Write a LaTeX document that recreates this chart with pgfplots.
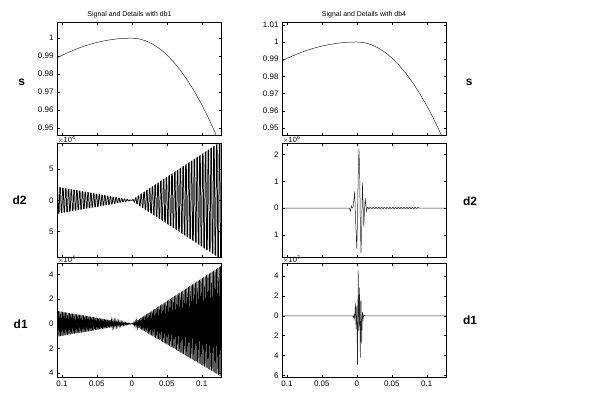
\documentclass[border=0pt]{standalone}
\usepackage{pgfplots}
\pgfplotsset{compat=1.18}
\usepackage{fontspec}
\setmainfont{Liberation Sans}
\begin{document}
\begin{tikzpicture}[x=1bp,y=1bp]
\useasboundingbox (0,0) rectangle (600,395);
\pgfplotsset{
 base/.style={scale only axis, width=164bp, anchor=south west,
   axis line style={line width=0.5pt}, tick align=inside, tick pos=both,
   major tick length=2.5bp, xmin=-0.107, xmax=0.1276,
   xtick={-0.1,-0.05,0,0.05,0.1}, xticklabels=\empty, scaled ticks=false,
   tick label style={font=\fontsize{8}{9}\selectfont},
   tick style={line width=0.4pt, black}},
 ln/.style={black!85, mark=none, line width=0.5pt},
 dense/.style={black, mark=none, line width=0.75pt},
}
% ---------- signal ----------
\begin{axis}[base, name=L1, at={(57bp,259.5bp)}, height=112.8bp, ymin=0.9458, ymax=1.0086,
  ytick={0.95,0.96,0.97,0.98,0.99,1}, yticklabels={0.95,0.96,0.97,0.98,0.99,1}]
\addplot[ln] coordinates {(-0.107,0.98901)(-0.100,0.99040)(-0.090,0.99222)(-0.080,0.99386)(-0.070,0.99530)(-0.060,0.99654)(-0.050,0.99760)(-0.040,0.99846)(-0.030,0.99914)(-0.020,0.99962)(-0.010,0.99990)(0,1)(0.01,0.99963)(0.02,0.99852)(0.03,0.99667)(0.04,0.99408)(0.05,0.99075)(0.06,0.98668)(0.07,0.98187)(0.08,0.97632)(0.09,0.97003)(0.10,0.96300)(0.11,0.95523)(0.12,0.94672)(0.1275,0.93985)};
\end{axis}
\begin{axis}[base, name=R1, at={(282bp,259.5bp)}, height=112.8bp, ymin=0.9456, ymax=1.0112,
  ytick={0.95,0.96,0.97,0.98,0.99,1,1.01}, yticklabels={0.95,0.96,0.97,0.98,0.99,1,1.01}]
\addplot[ln] coordinates {(-0.107,0.98901)(-0.100,0.99040)(-0.090,0.99222)(-0.080,0.99386)(-0.070,0.99530)(-0.060,0.99654)(-0.050,0.99760)(-0.040,0.99846)(-0.030,0.99914)(-0.020,0.99962)(-0.010,0.99990)(0,1)(0.01,0.99963)(0.02,0.99852)(0.03,0.99667)(0.04,0.99408)(0.05,0.99075)(0.06,0.98668)(0.07,0.98187)(0.08,0.97632)(0.09,0.97003)(0.10,0.96300)(0.11,0.95523)(0.12,0.94672)(0.1275,0.93985)};
\end{axis}
% ---------- d2 db1 (x 1e-4) ----------
\begin{axis}[base, name=L2, at={(57bp,137.7bp)}, height=114bp, ymin=-9.1, ymax=9.1,
  ytick={-5,0,5}, yticklabels={5,0,5}]
\addplot[dense] coordinates {(-0.107,2.10)(-0.106,2.08)(-0.105,-2.06)(-0.104,-2.04)(-0.103,2.02)(-0.102,2.00)(-0.101,-1.98)(-0.100,-1.96)(-0.099,1.94)(-0.098,1.92)(-0.097,-1.90)(-0.096,-1.88)(-0.095,1.86)(-0.094,1.84)(-0.093,-1.82)(-0.092,-1.80)(-0.091,1.78)(-0.090,1.76)(-0.089,-1.74)(-0.088,-1.72)(-0.087,1.71)(-0.086,1.69)(-0.085,-1.67)(-0.084,-1.65)(-0.083,1.63)(-0.082,1.61)(-0.081,-1.59)(-0.080,-1.57)(-0.079,1.55)(-0.078,1.53)(-0.077,-1.51)(-0.076,-1.49)(-0.075,1.47)(-0.074,1.45)(-0.073,-1.43)(-0.072,-1.41)(-0.071,1.39)(-0.070,1.37)(-0.069,-1.35)(-0.068,-1.33)(-0.067,1.31)(-0.066,1.29)(-0.065,-1.27)(-0.064,-1.25)(-0.063,1.23)(-0.062,1.22)(-0.061,-1.20)(-0.060,-1.18)(-0.059,1.16)(-0.058,1.14)(-0.057,-1.12)(-0.056,-1.10)(-0.055,1.08)(-0.054,1.06)(-0.053,-1.04)(-0.052,-1.02)(-0.051,1.00)(-0.050,0.98)(-0.049,-0.96)(-0.048,-0.94)(-0.047,0.92)(-0.046,0.90)(-0.045,-0.88)(-0.044,-0.86)(-0.043,0.84)(-0.042,0.82)(-0.041,-0.80)(-0.040,-0.78)(-0.039,0.76)(-0.038,0.74)(-0.037,-0.73)(-0.036,-0.71)(-0.035,0.69)(-0.034,0.67)(-0.033,-0.65)(-0.032,-0.63)(-0.031,0.61)(-0.030,0.59)(-0.029,-0.57)(-0.028,-0.55)(-0.027,0.53)(-0.026,0.51)(-0.025,-0.49)(-0.024,-0.47)(-0.023,0.45)(-0.022,0.43)(-0.021,-0.41)(-0.020,-0.39)(-0.019,0.37)(-0.018,0.35)(-0.017,-0.33)(-0.016,-0.31)(-0.015,0.29)(-0.014,0.27)(-0.013,-0.25)(-0.012,-0.24)(-0.011,0.22)(-0.010,0.20)(-0.009,-0.18)(-0.008,-0.16)(-0.007,0.14)(-0.006,0.12)(-0.005,-0.10)(-0.004,-0.08)(-0.003,0.06)(-0.002,0.04)(-0.001,-0.02)(0,0)
(0.001,0.07)(0.002,0.15)(0.003,-0.22)(0.004,-0.29)(0.005,0.37)(0.006,0.44)(0.007,-0.51)(0.008,-0.58)(0.009,0.66)(0.010,0.73)(0.011,-0.80)(0.012,-0.88)(0.013,0.95)(0.014,1.02)(0.015,-1.10)(0.016,-1.17)(0.017,1.24)(0.018,1.31)(0.019,-1.39)(0.020,-1.46)(0.021,1.53)(0.022,1.61)(0.023,-1.68)(0.024,-1.75)(0.025,1.83)(0.026,1.90)(0.027,-1.97)(0.028,-2.04)(0.029,2.12)(0.030,2.19)(0.031,-2.26)(0.032,-2.34)(0.033,2.41)(0.034,2.48)(0.035,-2.56)(0.036,-2.63)(0.037,2.70)(0.038,2.77)(0.039,-2.85)(0.040,-2.92)(0.041,2.99)(0.042,3.07)(0.043,-3.14)(0.044,-3.21)(0.045,3.29)(0.046,3.36)(0.047,-3.43)(0.048,-3.50)(0.049,3.58)(0.050,3.65)(0.051,-3.72)(0.052,-3.80)(0.053,3.87)(0.054,3.94)(0.055,-4.02)(0.056,-4.09)(0.057,4.16)(0.058,4.23)(0.059,-4.31)(0.060,-4.38)(0.061,4.45)(0.062,4.53)(0.063,-4.60)(0.064,-4.67)(0.065,4.75)(0.066,4.82)(0.067,-4.89)(0.068,-4.96)(0.069,5.04)(0.070,5.11)(0.071,-5.18)(0.072,-5.26)(0.073,5.33)(0.074,5.40)(0.075,-5.48)(0.076,-5.55)(0.077,5.62)(0.078,5.69)(0.079,-5.77)(0.080,-5.84)(0.081,5.91)(0.082,5.99)(0.083,-6.06)(0.084,-6.13)(0.085,6.21)(0.086,6.28)(0.087,-6.35)(0.088,-6.42)(0.089,6.50)(0.090,6.57)(0.091,-6.64)(0.092,-6.72)(0.093,6.79)(0.094,6.86)(0.095,-6.94)(0.096,-7.01)(0.097,7.08)(0.098,7.15)(0.099,-7.23)(0.100,-7.30)(0.101,7.37)(0.102,7.45)(0.103,-7.52)(0.104,-7.59)(0.105,7.67)(0.106,7.74)(0.107,-7.81)(0.108,-7.88)(0.109,7.96)(0.110,8.03)(0.111,-8.10)(0.112,-8.18)(0.113,8.25)(0.114,8.32)(0.115,-8.40)(0.116,-8.47)(0.117,8.54)(0.118,8.61)(0.119,-8.69)(0.120,-8.76)(0.121,8.83)(0.122,8.91)(0.123,-8.98)(0.124,-9.05)(0.125,9.13)(0.126,9.20)(0.127,-9.27)(0.128,-9.34)};
\end{axis}
% ---------- d2 db4 (x 1e-6) ----------
\begin{axis}[base, name=R2, at={(282bp,137.7bp)}, height=114bp, ymin=-1.84, ymax=2.42,
  ytick={-1,0,1,2}, yticklabels={1,0,1,2}]
\addplot[ln] coordinates {(-0.107,0)(-0.011,0)(-0.010,-0.05)(-0.009,-0.12)(-0.008,0.08)(-0.007,0.02)(-0.006,0)(-0.005,0.1)(-0.004,0.35)(-0.003,0.61)(-0.002,-0.31)(-0.001,-0.9)(0,-1.54)(0.001,-0.4)(0.002,1.2)(0.003,2.22)(0.004,1.5)(0.005,-0.5)(0.006,-1.67)(0.007,-0.8)(0.008,0.93)(0.009,0.2)(0.010,-0.70)(0.011,-0.1)(0.012,0.37)(0.013,0.1)(0.014,-0.12)(0.015,0.03)
(0.016,0.03)(0.017,-0.03)(0.018,-0.03)(0.019,0.03)(0.020,0.03)(0.021,-0.03)(0.022,-0.03)(0.023,0.03)(0.024,0.03)(0.025,-0.03)(0.026,-0.03)(0.027,0.03)(0.028,0.03)(0.029,-0.03)(0.030,-0.03)(0.031,0.03)(0.032,0.03)(0.033,-0.03)(0.034,-0.03)(0.035,0.03)(0.036,0.03)(0.037,-0.03)(0.038,-0.03)(0.039,0.03)(0.040,0.03)(0.041,-0.03)(0.042,-0.03)(0.043,0.03)(0.044,0.03)(0.045,-0.03)(0.046,-0.03)(0.047,0.03)(0.048,0.03)(0.049,-0.03)(0.050,-0.03)(0.051,0.03)(0.052,0.03)(0.053,-0.03)(0.054,-0.03)(0.055,0.03)(0.056,0.03)(0.057,-0.03)(0.058,-0.03)(0.059,0.03)(0.060,0.03)(0.061,-0.03)(0.062,-0.03)(0.063,0.03)(0.064,0.03)(0.065,-0.03)(0.066,-0.03)(0.067,0.03)(0.068,0.03)(0.069,-0.03)(0.070,-0.03)(0.071,0.03)(0.072,0.03)(0.073,-0.03)(0.074,-0.03)(0.075,0.03)(0.076,0.03)(0.077,-0.03)(0.078,-0.03)(0.079,0.03)(0.080,0.03)(0.081,-0.03)(0.082,-0.03)(0.083,0.03)(0.084,0.03)(0.085,-0.03)(0.086,-0.03)(0.087,0.03)(0.088,0.03)(0.089,0)(0.1276,0)};
\end{axis}
% ---------- d1 db1 (x 1e-4) ----------
\begin{axis}[base, name=L3, at={(57bp,17.5bp)}, height=114.2bp, ymin=-4.35, ymax=4.9,
  ytick={-4,-2,0,2,4}, yticklabels={4,2,0,2,4}, xticklabels={0.1,0.05,0,0.05,0.1}]
\addplot[dense] coordinates {(-0.107,1.05)(-0.106,-1.04)(-0.105,1.03)(-0.104,-1.02)(-0.103,1.01)(-0.102,-1.00)(-0.101,0.99)(-0.100,-0.98)(-0.099,0.97)(-0.098,-0.96)(-0.097,0.95)(-0.096,-0.94)(-0.095,0.93)(-0.094,-0.92)(-0.093,0.91)(-0.092,-0.90)(-0.091,0.89)(-0.090,-0.88)(-0.089,0.87)(-0.088,-0.86)(-0.087,0.85)(-0.086,-0.84)(-0.085,0.83)(-0.084,-0.82)(-0.083,0.81)(-0.082,-0.80)(-0.081,0.79)(-0.080,-0.78)(-0.079,0.77)(-0.078,-0.76)(-0.077,0.75)(-0.076,-0.75)(-0.075,0.74)(-0.074,-0.73)(-0.073,0.72)(-0.072,-0.71)(-0.071,0.70)(-0.070,-0.69)(-0.069,0.68)(-0.068,-0.67)(-0.067,0.66)(-0.066,-0.65)(-0.065,0.64)(-0.064,-0.63)(-0.063,0.62)(-0.062,-0.61)(-0.061,0.60)(-0.060,-0.59)(-0.059,0.58)(-0.058,-0.57)(-0.057,0.56)(-0.056,-0.55)(-0.055,0.54)(-0.054,-0.53)(-0.053,0.52)(-0.052,-0.51)(-0.051,0.50)(-0.050,-0.49)(-0.049,0.48)(-0.048,-0.47)(-0.047,0.46)(-0.046,-0.45)(-0.045,0.44)(-0.044,-0.43)(-0.043,0.42)(-0.042,-0.41)(-0.041,0.40)(-0.040,-0.39)(-0.039,0.38)(-0.038,-0.37)(-0.037,0.36)(-0.036,-0.35)(-0.035,0.34)(-0.034,-0.33)(-0.033,0.32)(-0.032,-0.31)(-0.031,0.30)(-0.030,-0.29)(-0.029,0.28)(-0.028,-0.27)(-0.027,0.26)(-0.026,-0.25)(-0.025,0.25)(-0.024,-0.24)(-0.023,0.23)(-0.022,-0.22)(-0.021,0.21)(-0.020,-0.20)(-0.019,0.19)(-0.018,-0.18)(-0.017,0.17)(-0.016,-0.16)(-0.015,0.15)(-0.014,-0.14)(-0.013,0.13)(-0.012,-0.12)(-0.011,0.11)(-0.010,-0.10)(-0.009,0.09)(-0.008,-0.08)(-0.007,0.07)(-0.006,-0.06)(-0.005,0.05)(-0.004,-0.04)(-0.003,0.03)(-0.002,-0.02)(-0.001,0.01)(0,0)
(0.001,0.04)(0.002,-0.07)(0.003,0.11)(0.004,-0.13)(0.005,0.18)(0.006,-0.20)(0.007,0.26)(0.008,-0.27)(0.009,0.33)(0.010,-0.33)(0.011,0.40)(0.012,-0.40)(0.013,0.48)(0.014,-0.47)(0.015,0.55)(0.016,-0.53)(0.017,0.62)(0.018,-0.60)(0.019,0.70)(0.020,-0.67)(0.021,0.77)(0.022,-0.73)(0.023,0.84)(0.024,-0.80)(0.025,0.92)(0.026,-0.87)(0.027,0.99)(0.028,-0.93)(0.029,1.06)(0.030,-1.00)(0.031,1.14)(0.032,-1.07)(0.033,1.21)(0.034,-1.13)(0.035,1.28)(0.036,-1.20)(0.037,1.36)(0.038,-1.27)(0.039,1.43)(0.040,-1.33)(0.041,1.50)(0.042,-1.40)(0.043,1.58)(0.044,-1.47)(0.045,1.65)(0.046,-1.53)(0.047,1.72)(0.048,-1.60)(0.049,1.80)(0.050,-1.67)(0.051,1.87)(0.052,-1.73)(0.053,1.95)(0.054,-1.80)(0.055,2.02)(0.056,-1.86)(0.057,2.09)(0.058,-1.93)(0.059,2.17)(0.060,-2.00)(0.061,2.24)(0.062,-2.06)(0.063,2.31)(0.064,-2.13)(0.065,2.39)(0.066,-2.20)(0.067,2.46)(0.068,-2.26)(0.069,2.53)(0.070,-2.33)(0.071,2.61)(0.072,-2.40)(0.073,2.68)(0.074,-2.46)(0.075,2.75)(0.076,-2.53)(0.077,2.83)(0.078,-2.60)(0.079,2.90)(0.080,-2.66)(0.081,2.97)(0.082,-2.73)(0.083,3.05)(0.084,-2.80)(0.085,3.12)(0.086,-2.86)(0.087,3.19)(0.088,-2.93)(0.089,3.27)(0.090,-3.00)(0.091,3.34)(0.092,-3.06)(0.093,3.41)(0.094,-3.13)(0.095,3.49)(0.096,-3.20)(0.097,3.56)(0.098,-3.26)(0.099,3.63)(0.100,-3.33)(0.101,3.71)(0.102,-3.40)(0.103,3.78)(0.104,-3.46)(0.105,3.85)(0.106,-3.53)(0.107,3.93)(0.108,-3.60)(0.109,4.00)(0.110,-3.66)(0.111,4.07)(0.112,-3.73)(0.113,4.15)(0.114,-3.80)(0.115,4.22)(0.116,-3.86)(0.117,4.29)(0.118,-3.93)(0.119,4.37)(0.120,-4.00)(0.121,4.44)(0.122,-4.06)(0.123,4.51)(0.124,-4.13)(0.125,4.59)(0.126,-4.20)(0.127,4.66)(0.128,-4.26)};
\end{axis}
% ---------- d1 db4 (x 1e-7) ----------
\begin{axis}[base, name=R3, at={(282bp,17.5bp)}, height=114.2bp, ymin=-6.2, ymax=5.27,
  ytick={-6,-4,-2,0,2,4}, yticklabels={6,4,2,0,2,4}, xticklabels={0.1,0.05,0,0.05,0.1}]
\addplot[ln] coordinates {(-0.107,0)(-0.006,0)(-0.005,-0.2)(-0.004,0.1)(-0.003,-0.3)(-0.002,1.24)(-0.001,-1.33)(0,1.0)(0.001,-4.93)(0.002,4.57)(0.003,-1.5)(0.004,2.84)(0.005,-4.2)(0.006,1.57)(0.007,-2.76)(0.008,0.4)(0.009,-0.4)(0.010,0.1)(0.011,0)(0.1276,0)};
\end{axis}
% ---------- texts ----------
\node[font=\fontsize{7}{8}\selectfont] at (129.5,380.3) {Signal and Details with db1};
\node[font=\fontsize{7}{8}\selectfont] at (364,380.3) {Signal and Details with db4};
\begin{scope}[font=\fontsize{12}{14}\bfseries\selectfont]
\node at (21.7,312.3) {s};
\node at (19.5,195) {d2};
\node at (20.7,71) {d1};
\node at (469.3,313) {s};
\node at (470,194) {d2};
\node at (470,74.3) {d1};
\end{scope}
\begin{scope}[font=\fontsize{7.5}{8}\selectfont, inner sep=0pt, anchor=south west]
\node at ([xshift=0.3bp,yshift=0.2bp]L2.north west) {$\times$10\textsuperscript{4}};
\node at ([xshift=0.3bp,yshift=0.2bp]L3.north west) {$\times$10\textsuperscript{4}};
\node at ([xshift=0.3bp,yshift=0.2bp]R2.north west) {$\times$10\textsuperscript{6}};
\node at ([xshift=0.3bp,yshift=0.2bp]R3.north west) {$\times$10\textsuperscript{7}};
\end{scope}
\end{tikzpicture}
\end{document}
